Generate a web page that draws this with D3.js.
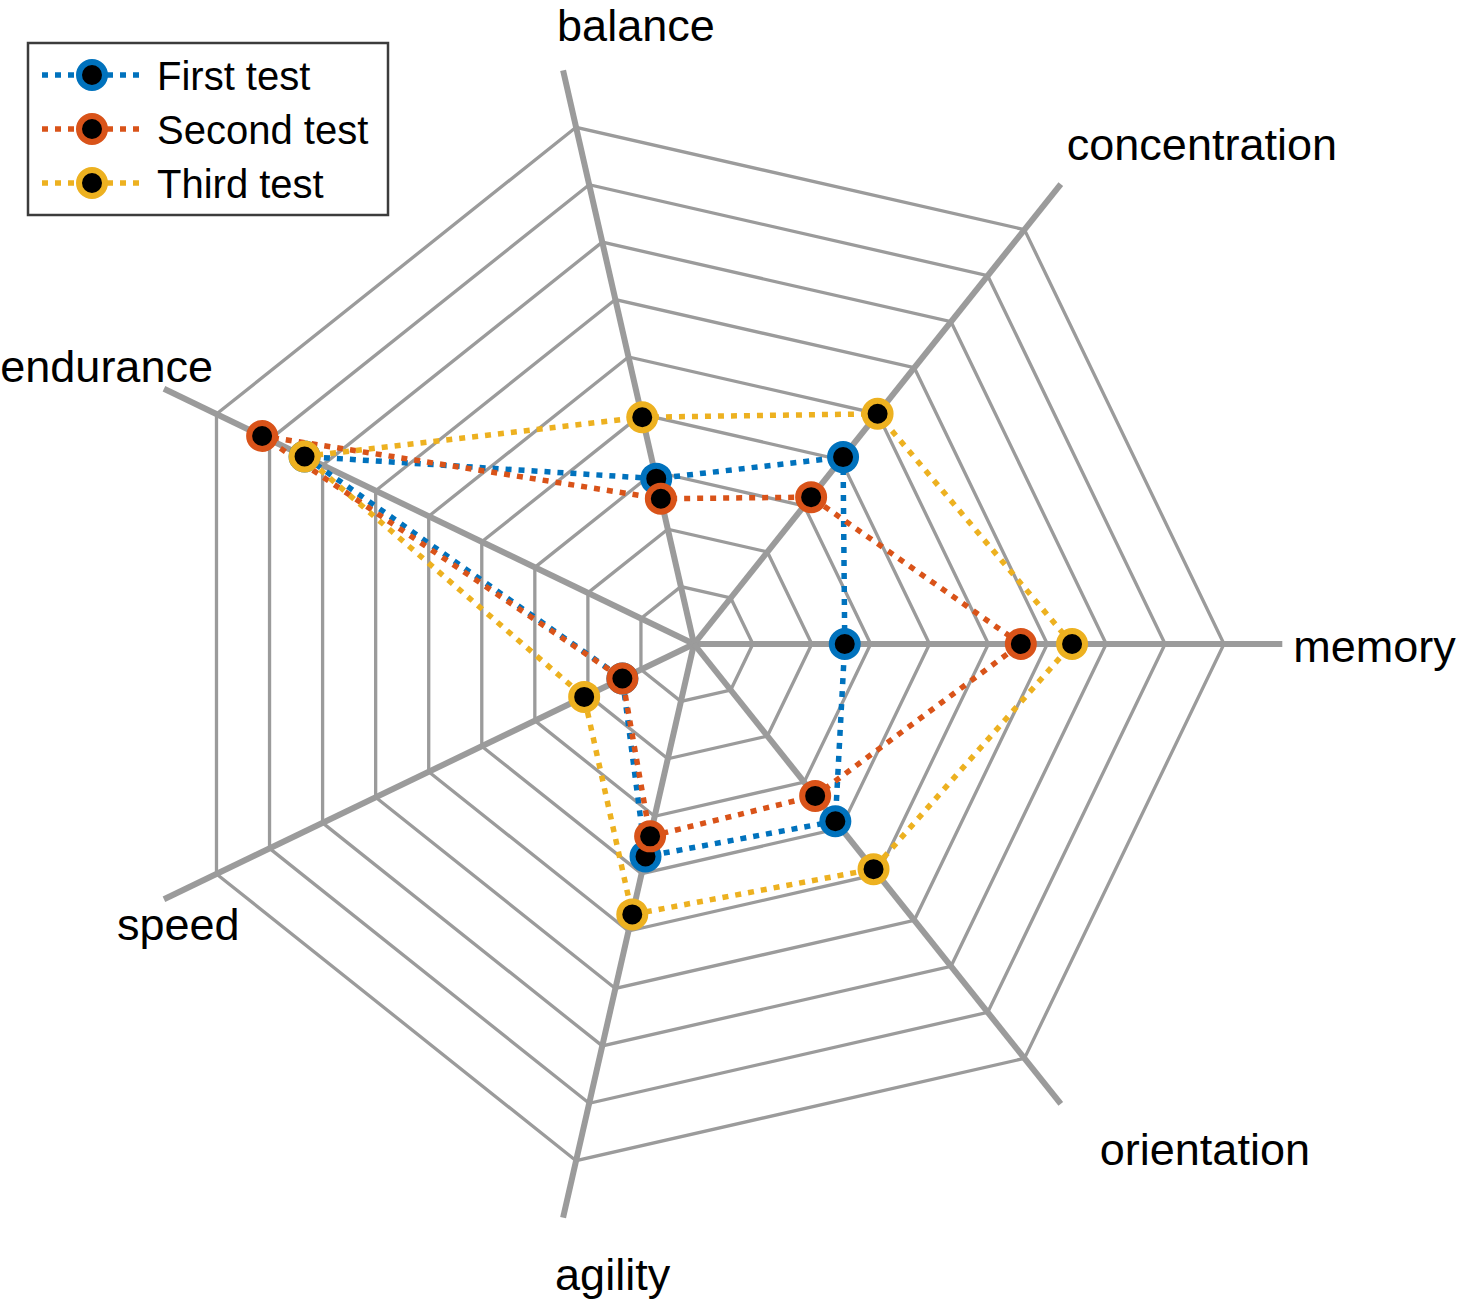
<!DOCTYPE html>
<html>
<head>
<meta charset="utf-8">
<script src="https://cdn.jsdelivr.net/npm/d3@7/dist/d3.min.js"></script>
<style>
  html, body { margin: 0; padding: 0; background: #fff; }
  svg { display: block; font-family: "Liberation Sans", Arial, Helvetica, sans-serif; }
</style>
</head>
<body>
<svg id="chart" width="1458" height="1301"></svg>
<script>
// ---------- data ----------
const categories = ["memory", "concentration", "balance", "endurance", "speed", "agility", "orientation"];
const seriesNames = ["First test", "Second test", "Third test"];
const firstTest  = [2.56, 4.06, 2.88, 7.34, 1.35, 3.70, 3.85];
const secondTest = [5.55, 3.19, 2.53, 8.14, 1.35, 3.35, 3.30];
const thirdTest  = [6.42, 5.00, 3.95, 7.34, 2.07, 4.71, 4.89];
const ringLevels = [1, 2, 3, 4, 5, 6, 7, 8, 9];
const seriesColors = ["#0072BD", "#D95319", "#EDB120"];

// ---------- layout ----------
const W = 1458, H = 1301;
const cx = 694, cy = 644, R = 530;
const axisExt = 1.11;
const labelLayout = [
  {anchor: "start", dx: 11,  dy: 18},
  {anchor: "start", dx: 6,   dy: -24},
  {anchor: "start", dx: -6,  dy: -29},
  {anchor: "end",   dx: 49,  dy: -7},
  {anchor: "start", dx: -47, dy: 41},
  {anchor: "start", dx: -8,  dy: 72},
  {anchor: "start", dx: 39,  dy: 61}
];

const svg = d3.select("#chart");
const g = svg.append("g").attr("transform", `translate(${cx},${cy})`);

const n = categories.length;
const r = d3.scaleLinear().domain([0, d3.max(ringLevels)]).range([0, R]);
const ang = d3.scaleLinear().domain([0, n]).range([0, 2 * Math.PI]);
const pt = (i, v) => [r(v) * Math.cos(ang(i)), -r(v) * Math.sin(ang(i))];

// rings
const ringLine = d3.line();
g.selectAll("path.ring").data(ringLevels).join("path")
  .attr("class", "ring")
  .attr("d", lv => ringLine(d3.range(n).map(i => pt(i, lv))) + "Z")
  .attr("fill", "none").attr("stroke", "#9b9b9b").attr("stroke-width", 3.3);

// spokes
const maxV = d3.max(ringLevels) * axisExt;
g.selectAll("line.spoke").data(categories).join("line")
  .attr("class", "spoke")
  .attr("x1", 0).attr("y1", 0)
  .attr("x2", (d, i) => pt(i, maxV)[0])
  .attr("y2", (d, i) => pt(i, maxV)[1])
  .attr("stroke", "#9b9b9b").attr("stroke-width", 6);

// labels
g.selectAll("text.lab").data(categories).join("text")
  .attr("class", "lab")
  .attr("x", (d, i) => pt(i, maxV)[0] + labelLayout[i].dx)
  .attr("y", (d, i) => pt(i, maxV)[1] + labelLayout[i].dy)
  .attr("text-anchor", (d, i) => labelLayout[i].anchor)
  .attr("font-size", 45).attr("fill", "#000")
  .text(d => d);

// series
const allSeries = [firstTest, secondTest, thirdTest];
const dataLine = d3.line();
allSeries.forEach((vals, s) => {
  const sg = g.append("g");
  const pts = vals.map((v, i) => pt(i, v));
  sg.append("path")
    .attr("d", dataLine(pts) + "Z")
    .attr("fill", "none")
    .attr("stroke", seriesColors[s])
    .attr("stroke-width", 5.5)
    .attr("stroke-dasharray", "6 7");
  sg.selectAll("circle").data(pts).join("circle")
    .attr("cx", d => d[0]).attr("cy", d => d[1])
    .attr("r", 13)
    .attr("fill", "#000")
    .attr("stroke", seriesColors[s])
    .attr("stroke-width", 6);
});

// legend
const lg = svg.append("g");
lg.append("rect").attr("x", 28).attr("y", 43).attr("width", 360).attr("height", 172)
  .attr("fill", "#fff").attr("stroke", "#3c3c3c").attr("stroke-width", 2.5);
seriesNames.forEach((name, s) => {
  const y = 75 + s * 54;
  lg.append("line").attr("x1", 42).attr("x2", 144).attr("y1", y).attr("y2", y)
    .attr("stroke", seriesColors[s]).attr("stroke-width", 5.5).attr("stroke-dasharray", "6 7");
  lg.append("circle").attr("cx", 92).attr("cy", y).attr("r", 13)
    .attr("fill", "#000").attr("stroke", seriesColors[s]).attr("stroke-width", 6);
  lg.append("text").attr("x", 157).attr("y", y + 15)
    .attr("font-size", 40).attr("fill", "#000").text(name);
});
</script>
</body>
</html>
